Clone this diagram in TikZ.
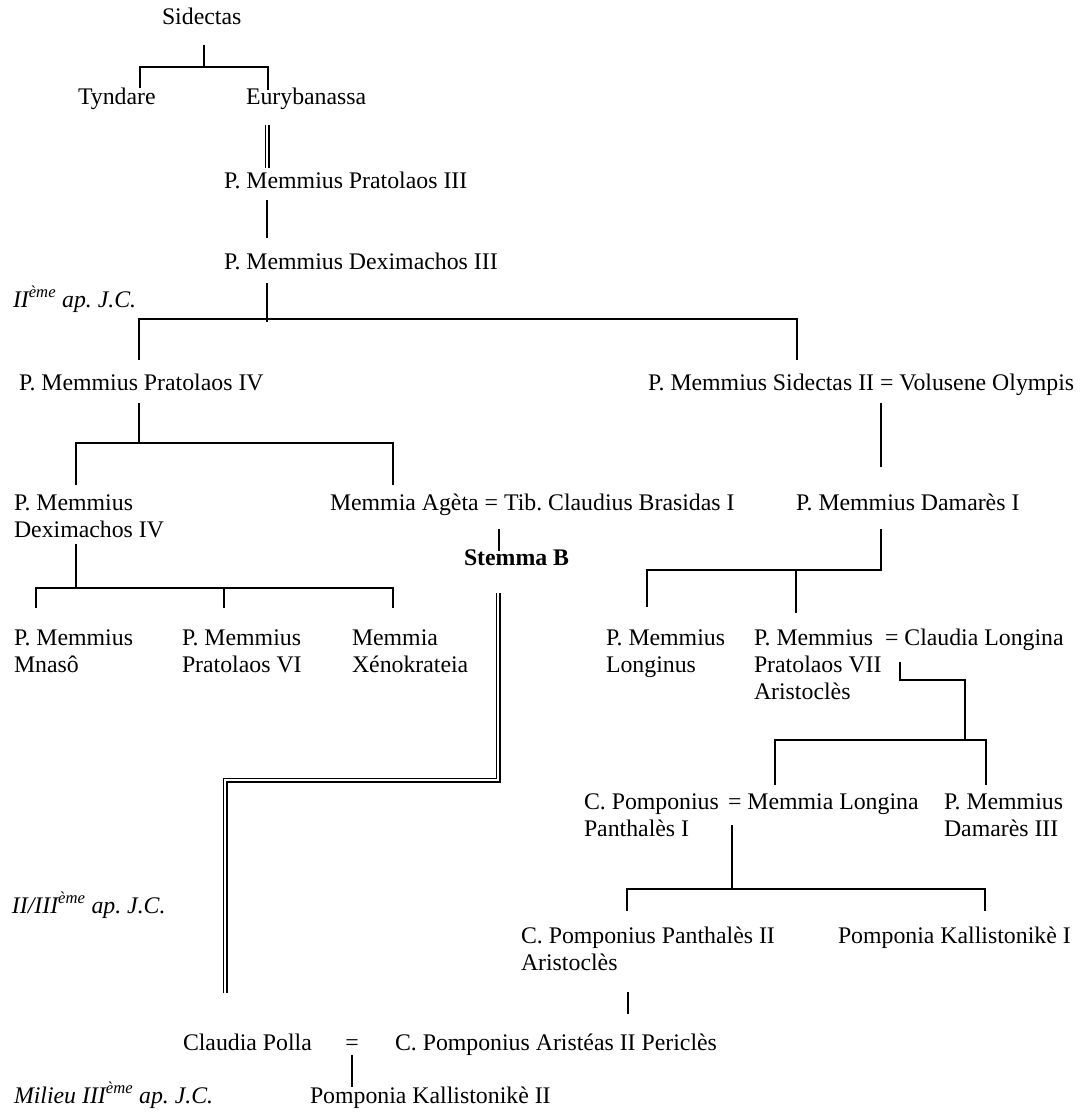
\documentclass[tikz,border=0pt]{standalone}
\usepackage{fontspec}
\setmainfont{Liberation Serif}
\frenchspacing
\newcommand{\mlines}[1]{\begin{tabular}[t]{@{}l@{}}#1\end{tabular}}
\begin{document}
\begin{tikzpicture}[x=1pt,y=-1pt,
  every node/.style={inner sep=0pt, outer sep=0pt, anchor=base west, font=\fontsize{23.8}{27}\selectfont\frenchspacing},
  ln/.style={line width=1.5pt},
  dbl/.style={double, line width=1.5pt, double distance=2pt},
  datelbl/.style={font=\fontsize{23.8}{27}\selectfont\frenchspacing\itshape}]
\useasboundingbox (0,0) rectangle (1081,1113);
% people
\node (sidectas) at (162,25) {Sidectas};
\node (tyndare) at (78,105) {Tyndare};
\node (eury) at (246,105) {Eurybanassa};
\node (prat3) at (224,188) {P. Memmius Pratolaos III};
\node (dex3) at (224,269) {P. Memmius Deximachos III};
\node[datelbl] (d2) at (13,307) {II\textsuperscript{ème} ap. J.C.};
\node (prat4) at (19,390) {P. Memmius Pratolaos IV};
\node (sid2) at (648,390) {P. Memmius Sidectas II = Volusene Olympis};
\node (dex4) at (14,510) {\mlines{P. Memmius\\Deximachos IV}};
\node (agete) at (330,510) {Memmia Agèta = Tib. Claudius Brasidas I};
\node (dam1) at (796,510) {P. Memmius Damarès I};
\node (stemma) at (464,565) {\bfseries Stemma B};
\node (mnaso) at (14,645) {\mlines{P. Memmius\\Mnasô}};
\node (prat6) at (182,645) {\mlines{P. Memmius\\Pratolaos VI}};
\node (xeno) at (352,645) {\mlines{Memmia\\Xénokrateia}};
\node (longinus) at (606,645) {\mlines{P. Memmius\\Longinus}};
\node (prat7) at (754,645) {\mlines{P. Memmius\\Pratolaos VII\\Aristoclès}};
\node (claudial) at (885,645) {= Claudia Longina};
\node (pomp1) at (584,809) {\mlines{C. Pomponius\\Panthalès I}};
\node (memmial) at (728,809) {= Memmia Longina};
\node (dam3) at (944,809) {\mlines{P. Memmius\\Damarès III}};
\node[datelbl] (d3) at (12,913) {II/III\textsuperscript{ème} ap. J.C.};
\node (pomp2) at (521,943) {\mlines{C. Pomponius Panthalès II\\Aristoclès}};
\node (kall1) at (838,943) {Pomponia Kallistonikè I};
\node (polla) at (183,1050) {Claudia Polla};
\node[anchor=base] (eq) at (352,1050) {=};
\node (arist) at (395,1050) {C. Pomponius Aristéas II Periclès};
\node[datelbl] (d4) at (14,1103) {Milieu III\textsuperscript{ème} ap. J.C.};
\node (kall2) at (310,1103) {Pomponia Kallistonikè II};
% connectors
\draw[ln] (204,45) -- (204,67);
\draw[ln] (140,88) -- (140,67) -- (268,67) -- (268,90);
\draw[dbl] (267,125) -- (267,168);
\draw[ln] (267,200) -- (267,238);
\draw[ln] (267,283) -- (267,322);
\draw[ln] (139,360) -- (139,319) -- (797,319) -- (797,360);
\draw[ln] (139,403) -- (139,443);
\draw[ln] (76,485) -- (76,443) -- (393,443) -- (393,485);
\draw[ln] (881,403) -- (881,467);
\draw[ln] (499,529) -- (499,551);
\draw[ln] (881,529) -- (881,570) -- (647,570) -- (647,607);
\draw[ln] (796,570) -- (796,613);
\draw[ln] (76,544) -- (76,588);
\draw[ln] (36,608) -- (36,588) -- (393,588) -- (393,608);
\draw[ln] (224,588) -- (224,608);
\draw[dbl] (498,593) -- (498,780) -- (225,780) -- (225,993);
\draw[ln] (900,662) -- (900,680) -- (965,680) -- (965,740);
\draw[ln] (775,785) -- (775,740) -- (986,740) -- (986,785);
\draw[ln] (732,825) -- (732,889);
\draw[ln] (627,911) -- (627,889) -- (985,889) -- (985,911);
\draw[ln] (628,992) -- (628,1014);
\draw[ln] (352,1055) -- (352,1087);
\end{tikzpicture}
\end{document}
